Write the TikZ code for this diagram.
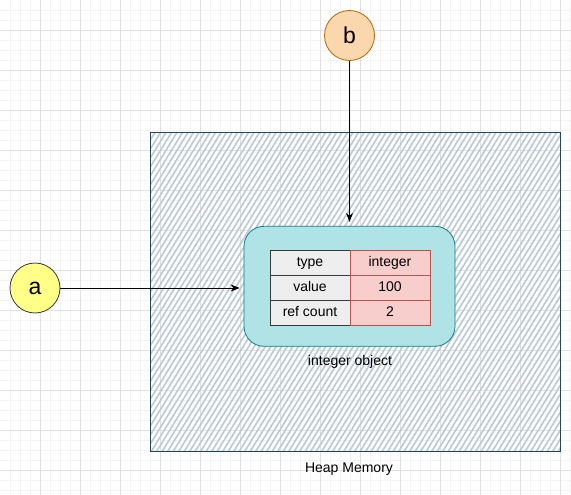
\documentclass[tikz,border=0pt]{standalone}
\usepackage{fontspec}
\setmainfont{Liberation Sans}
\usetikzlibrary{arrows.meta}
\definecolor{gridminor}{HTML}{F3F3F3}
\definecolor{gridmajor}{HTML}{E0E0E0}
\definecolor{astroke}{HTML}{36393D}
\definecolor{afill}{HTML}{FFFF88}
\definecolor{bstroke}{HTML}{B46504}
\definecolor{bfill}{HTML}{FAD7AC}
\definecolor{objfill}{HTML}{B0E3E6}
\definecolor{objstroke}{HTML}{0E8088}
\definecolor{keyfill}{HTML}{EEEEEE}
\definecolor{valfill}{HTML}{F8CECC}
\definecolor{valstroke}{HTML}{B85450}
\definecolor{heapstroke}{HTML}{23445D}
\definecolor{hatch}{HTML}{BCC9D5}
\tikzset{
  varcircle/.style={circle, minimum size=50pt, inner sep=0pt, line width=0.8pt, font=\fontsize{23}{25}\selectfont},
  cellbase/.style={minimum width=80pt, minimum height=25pt, inner sep=0pt, text height=10pt, text depth=2.5pt, line width=0.8pt, font=\fontsize{14}{16}\selectfont},
  keycell/.style={cellbase, draw=astroke, fill=keyfill},
  valcell/.style={cellbase, draw=valstroke, fill=valfill},
  lbl/.style={font=\fontsize{14}{16}\selectfont, inner sep=0pt},
  ptr/.style={draw=black, line width=0.8pt, -{Stealth[length=9pt,width=7pt]}},
}
\begin{document}
\begin{tikzpicture}[x=1pt,y=-1pt]
\useasboundingbox (0,0) rectangle (571,495);
\fill[white] (0,0) rectangle (571,495);
% grid
\foreach \gx in {10,20,...,570} \draw[gridminor, line width=0.6pt] (\gx,0) -- (\gx,495);
\foreach \gy in {10,20,...,490} \draw[gridminor, line width=0.6pt] (0,\gy) -- (571,\gy);
\foreach \gx in {40,80,...,560} \draw[gridmajor, line width=0.8pt] (\gx,0) -- (\gx,495);
\foreach \gy in {30,70,...,470} \draw[gridmajor, line width=0.8pt] (0,\gy) -- (571,\gy);
% heap memory
\node[draw=none, inner sep=0pt, minimum width=410pt, minimum height=319pt] (heap) at (355.5,292) {};
\begin{scope}
  \clip (heap.south west) rectangle (heap.north east);
  \foreach \hx in {-60,-54.5,...,565} \draw[hatch, line width=1.6pt] (\hx,455) -- (\hx+200,130);
\end{scope}
\draw[heapstroke, line width=1pt] (heap.south west) rectangle (heap.north east);
\node[lbl] (heaplbl) at (349,469) {Heap Memory};
% integer object
\node[draw=objstroke, fill=objfill, rounded corners=20pt, line width=0.8pt, minimum width=211pt, minimum height=120pt] (obj) at (349.5,286.3) {};
\node[keycell] (k1) at (310,262.5) {type};
\node[valcell] (v1) at (390,262.5) {integer};
\node[keycell] (k2) at (310,287.5) {value};
\node[valcell] (v2) at (390,287.5) {100};
\node[keycell] (k3) at (310,312.5) {ref count};
\node[valcell] (v3) at (390,312.5) {2};
\node[lbl] (objlbl) at (350,362) {integer object};
% variables
\node[varcircle, draw=astroke, fill=afill] (a) at (35,288) {a};
\node[varcircle, draw=bstroke, fill=bfill] (b) at (349.5,35.5) {b};
% pointers
\draw[ptr, shorten >=4pt] (a.east) -- (a.east -| obj.west);
\draw[ptr, shorten >=4pt] (b.south) -- (obj.north);
\end{tikzpicture}
\end{document}
